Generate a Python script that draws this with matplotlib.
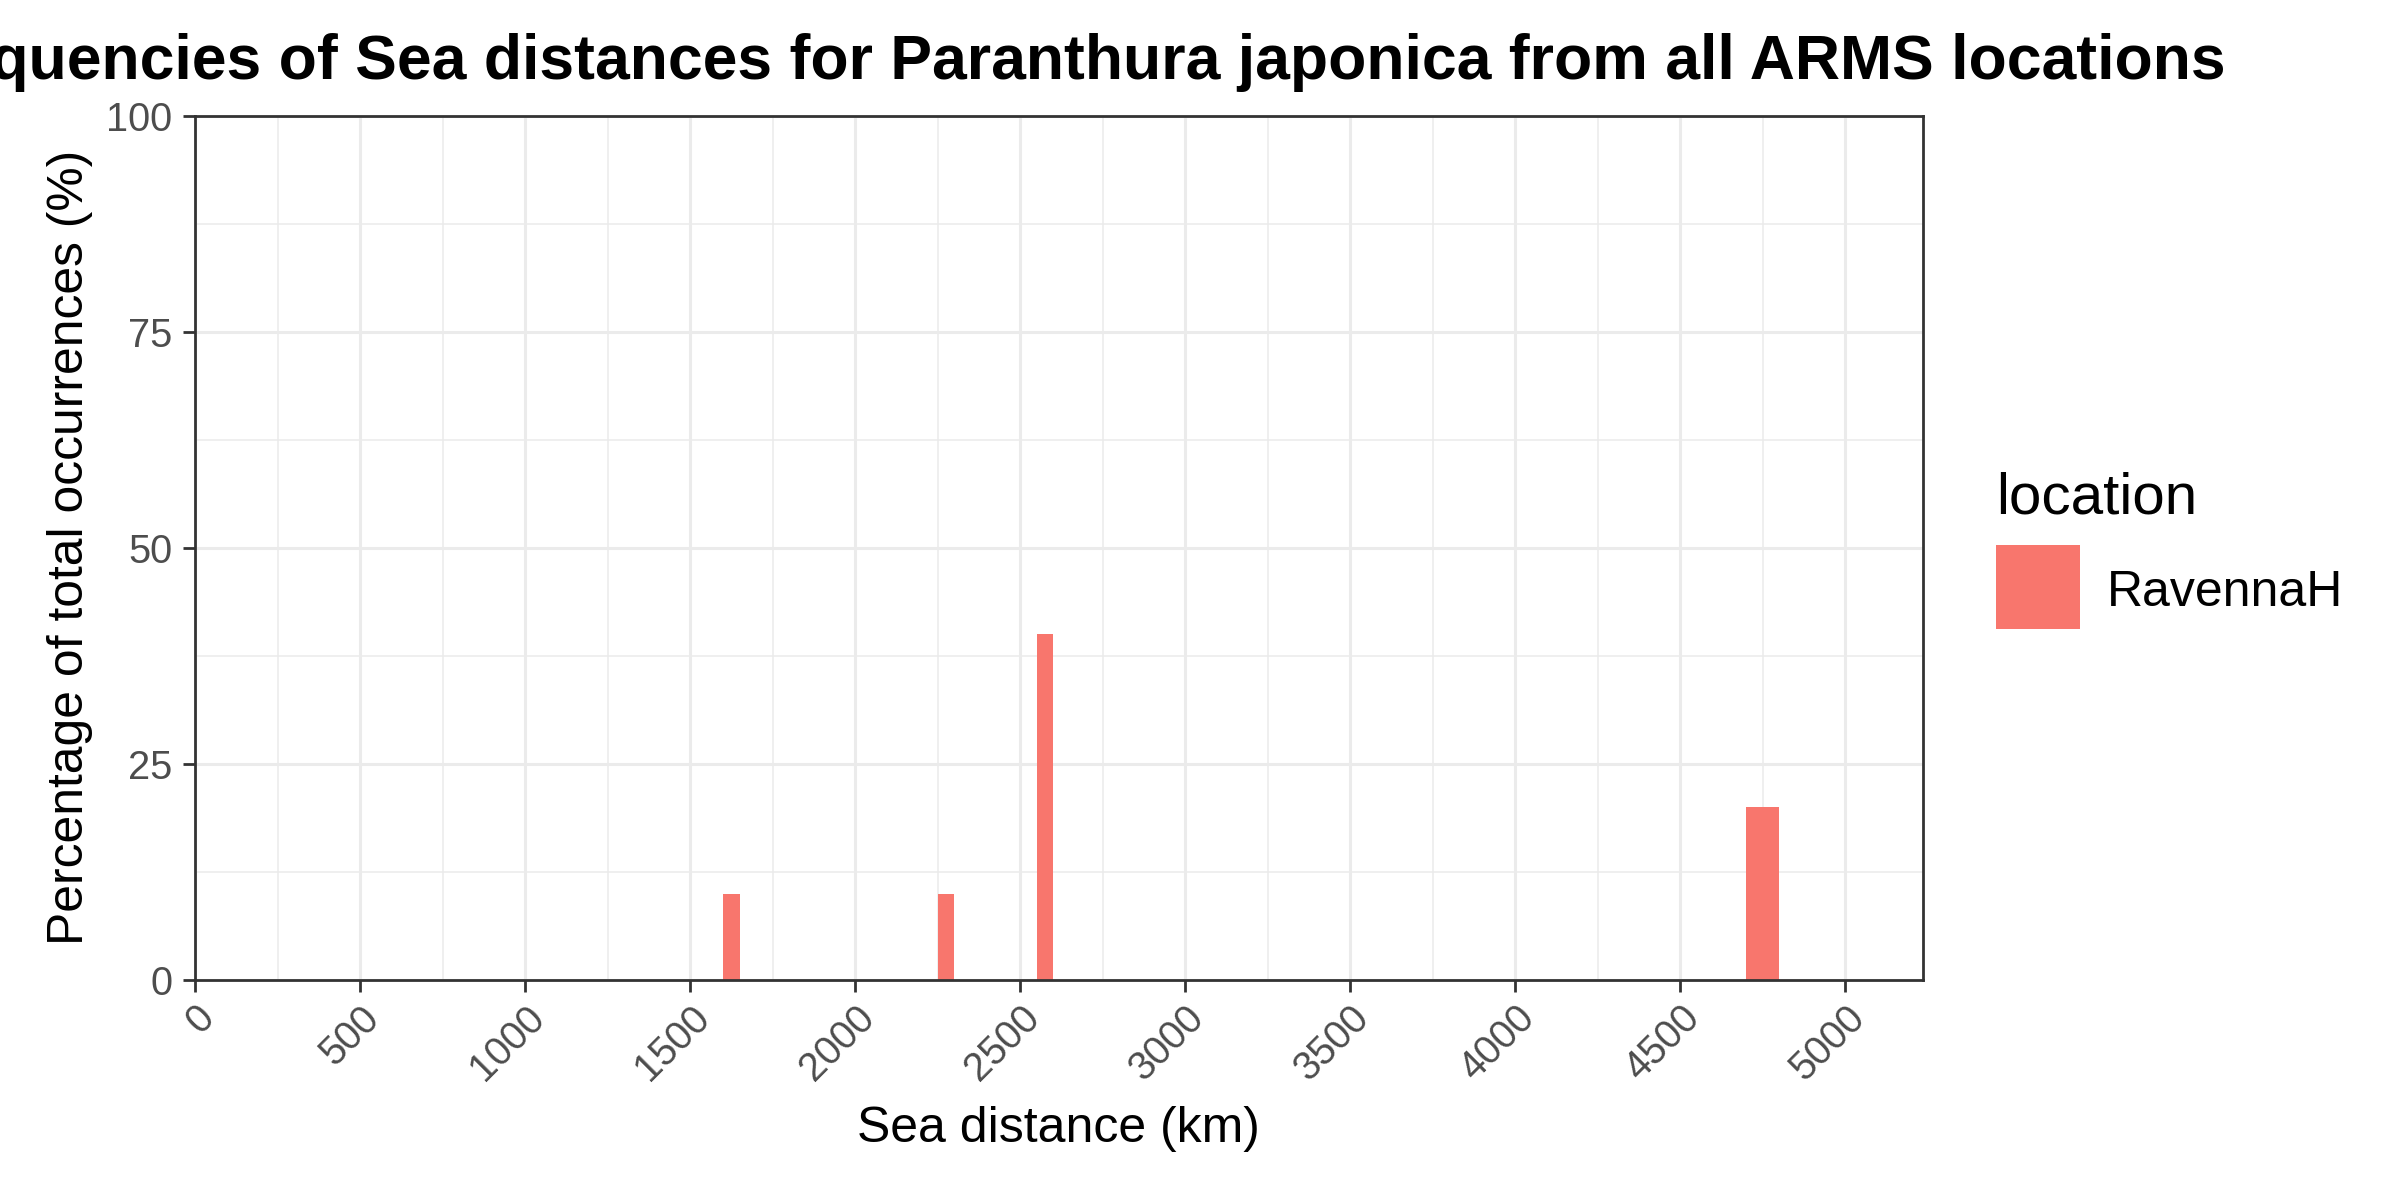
import matplotlib
matplotlib.use("Agg")
import matplotlib.pyplot as plt
import numpy as np
from matplotlib.patches import Rectangle
from matplotlib.ticker import MultipleLocator

# Histogram bins (centres, km) and share of all occurrences (%)
bin_centers = [1625, 2275, 2575, 4725, 4775]
percentages = [10, 10, 40, 20, 20]
bin_width = 50
location_names = ["RavennaH"]

x_ticks = np.arange(0, 5001, 500)
y_ticks = [0, 25, 50, 75, 100]

title_text = "Frequencies of Sea distances for Paranthura japonica from all ARMS locations"
x_label = "Sea distance (km)"
y_label = "Percentage of total occurrences (%)"
legend_title = "location"

bar_color = "#F8766D"
grid_color = "#EBEBEB"
frame_color = "#333333"
tick_text_color = "#4D4D4D"

plt.rcParams["font.family"] = ["Liberation Sans", "DejaVu Sans"]

fig = plt.figure(figsize=(12, 6), dpi=200)
ax = fig.add_axes([0.08125, 0.1833, 0.8011 - 0.08125, 0.9036 - 0.1833])

ax.bar(bin_centers, percentages, width=bin_width, color=bar_color, linewidth=0, zorder=3)

ax.set_xlim(0, 5235)
ax.set_ylim(0, 100)
ax.set_xticks(x_ticks)
ax.set_yticks(y_ticks)
ax.xaxis.set_minor_locator(MultipleLocator(250))
ax.yaxis.set_minor_locator(MultipleLocator(12.5))

ax.grid(which="major", color=grid_color, linewidth=1.1, zorder=0)
ax.grid(which="minor", color=grid_color, linewidth=0.55, zorder=0)
ax.set_axisbelow(True)

for spine in ax.spines.values():
    spine.set_color(frame_color)
    spine.set_linewidth(1.0)
    spine.set_zorder(4)

ax.tick_params(which="major", length=4.2, width=1.0, color=frame_color,
               labelcolor=tick_text_color, labelsize=14.3)
ax.tick_params(axis="y", pad=4)
ax.tick_params(axis="x", pad=2.5)
ax.tick_params(which="minor", length=0)

ax.set_xticklabels([str(t) for t in x_ticks], rotation=45, ha="right",
                   va="top", rotation_mode="anchor")
ax.set_yticklabels([str(t) for t in y_ticks])

panel_cx = (0.08125 + 0.8011) / 2
panel_cy = (0.1833 + 0.9036) / 2

fig.text(panel_cx, 1 - 79 / 1200, title_text, ha="center", va="baseline",
         fontsize=22.5, fontweight="bold", color="black")
fig.text(panel_cx, 1 - 1142 / 1200, x_label, ha="center", va="baseline",
         fontsize=18, color="black")
fig.text(83 / 2400, panel_cy, y_label, ha="center", va="baseline",
         rotation=90, rotation_mode="anchor", fontsize=17.9, color="black")

# legend drawn by hand, ggplot style
fig.text(1996 / 2400, 1 - 513 / 1200, legend_title, ha="left", va="baseline",
         fontsize=21, color="black")
for i, name in enumerate(location_names):
    fig.patches.append(Rectangle((1996 / 2400, 1 - 629 / 1200), 84 / 2400, 84 / 1200,
                                 transform=fig.transFigure, facecolor=bar_color,
                                 edgecolor="none"))
    fig.text(2107 / 2400, 1 - 606 / 1200, name, ha="left", va="baseline",
             fontsize=18, color="black")

fig.savefig("out.png", dpi=200, facecolor="white")
